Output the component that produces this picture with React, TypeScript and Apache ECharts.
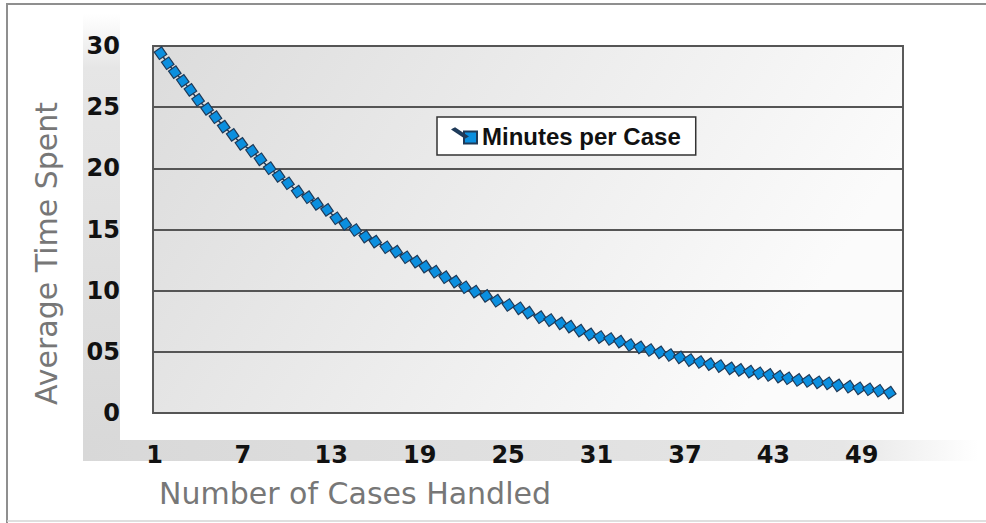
import React, { useEffect, useRef } from "react";
import * as echarts from "echarts";

const xTickValues = [1, 7, 13, 19, 25, 31, 37, 43, 49];
const yTickLabels = ["0", "05", "10", "15", "20", "25", "30"];
const seriesName = "Minutes per Case";
const xTitle = "Number of Cases Handled";
const yTitle = "Average Time Spent";

const caseNumbers = [
  1.41, 1.9, 2.38, 2.92, 3.44, 3.96, 4.57, 5.14, 5.7, 6.31, 6.9, 7.62, 8.19, 8.82, 9.43, 10.06,
  10.72, 11.42, 12.03, 12.71, 13.34, 13.95, 14.63, 15.31, 15.98, 16.73, 17.41, 18.08, 18.76,
  19.37, 20.05, 20.73, 21.41, 22.08, 22.76, 23.51, 24.23, 25.02, 25.77, 26.38, 27.17, 27.85,
  28.57, 29.2, 29.88, 30.56, 31.24, 31.92, 32.59, 33.27, 33.95, 34.63, 35.31, 35.98, 36.66,
  37.34, 38.02, 38.69, 39.37, 40.1, 40.73, 41.41, 42.04, 42.72, 43.39, 44.0, 44.68, 45.36,
  46.04, 46.72, 47.39, 48.14, 48.82, 49.49, 50.17, 50.9,
];
const minutesPerCase = [
  29.41, 28.59, 27.86, 27.15, 26.41, 25.59, 24.86, 24.18, 23.41, 22.73, 22.0, 21.42, 20.74,
  20.01, 19.38, 18.78, 18.09, 17.64, 17.09, 16.6, 15.92, 15.45, 14.96, 14.42, 14.01, 13.55,
  13.19, 12.73, 12.37, 11.96, 11.55, 11.1, 10.74, 10.28, 9.92, 9.57, 9.18, 8.83, 8.56, 8.2,
  7.83, 7.6, 7.33, 7.06, 6.73, 6.43, 6.21, 6.05, 5.83, 5.56, 5.37, 5.15, 4.96, 4.74, 4.55,
  4.33, 4.17, 3.99, 3.84, 3.65, 3.52, 3.38, 3.25, 3.11, 2.97, 2.84, 2.7, 2.62, 2.51, 2.43,
  2.26, 2.15, 2.02, 1.94, 1.82, 1.66,
];

export default function App() {
  const ref = useRef<HTMLDivElement>(null);
  useEffect(() => {
    if (!ref.current) return;
    const chart = echarts.init(ref.current, null, { renderer: "svg" });
    const data = caseNumbers.map((x, i) => [x, minutesPerCase[i]]);
    chart.setOption({
      animation: false,
      backgroundColor: "#ffffff",
      graphic: [
        {
          type: "rect",
          z: 0,
          shape: { x: 83, y: 14, width: 37, height: 447 },
          style: {
            fill: new echarts.graphic.LinearGradient(0, 0, 0, 1, [
              { offset: 0, color: "#ffffff" },
              { offset: 0.12, color: "#e6e6e6" },
              { offset: 1, color: "#d8d8d8" },
            ]),
          },
        },
        {
          type: "rect",
          z: 0,
          shape: { x: 83, y: 440, width: 895, height: 21 },
          style: {
            fill: new echarts.graphic.LinearGradient(0, 0, 1, 0, [
              { offset: 0, color: "#d8d8d8" },
              { offset: 0.85, color: "#e6e6e6" },
              { offset: 1, color: "#ffffff" },
            ]),
          },
        },
        {
          type: "polyline",
          z: 1,
          shape: { points: [[7, 523], [7, 4], [986, 4]] },
          style: { fill: "none", stroke: "#8f8f8f", lineWidth: 2 },
        },
        {
          type: "line",
          z: 1,
          shape: { x1: 7, y1: 521, x2: 986, y2: 521 },
          style: { stroke: "#d4d4d4", lineWidth: 1.5 },
        },
      ],
      grid: {
        left: 153,
        top: 46,
        width: 750,
        height: 367,
        show: true,
        backgroundColor: new echarts.graphic.LinearGradient(0, 0, 1, 0.3, [
          { offset: 0, color: "#dcdcdc" },
          { offset: 1, color: "#fbfbfb" },
        ]),
        borderColor: "#5a5a5a",
        borderWidth: 2,
      },
      legend: {
        left: 437,
        top: 117,
        orient: "horizontal",
        backgroundColor: "#ffffff",
        borderColor: "#333333",
        borderWidth: 1.5,
        borderRadius: 0,
        padding: [7, 15, 7, 15],
        itemWidth: 24,
        itemHeight: 15,
        icon: "path://M0,1 L2,0 L14,8 L12,9 Z M11,3 L24,3 L24,15 L11,15 Z",
        textStyle: {
          fontFamily: "Liberation Sans, Arial, sans-serif",
          fontWeight: "bold",
          fontSize: 24,
          color: "#111111",
        },
        data: [seriesName],
      },
      xAxis: {
        type: "value",
        min: 0.9,
        max: 51.8,
        splitLine: { show: false },
        axisTick: { show: false },
        axisLine: { show: false },
        axisLabel: {
          customValues: xTickValues,
          formatter: (v: number) => String(v),
          fontFamily: "DejaVu Sans, sans-serif",
          fontWeight: "bold",
          fontSize: 24,
          color: "#111111",
          margin: 30,
        },
        name: xTitle,
        nameLocation: "middle",
        nameGap: 65,
        nameTextStyle: {
          fontFamily: "DejaVu Sans, sans-serif",
          fontSize: 30,
          color: "#777777",
          padding: [0, 346, 0, 0],
        },
      },
      yAxis: {
        type: "value",
        min: 0,
        max: 30,
        interval: 5,
        axisLine: { show: false },
        axisTick: { show: false },
        splitLine: { lineStyle: { color: "#555555", width: 2 } },
        axisLabel: {
          formatter: (v: number) => yTickLabels[Math.round(v / 5)],
          fontFamily: "DejaVu Sans, sans-serif",
          fontWeight: "bold",
          fontSize: 24,
          color: "#111111",
          margin: 33,
          padding: [12, 0, 0, 0],
        },
        name: yTitle,
        nameLocation: "middle",
        nameGap: 92,
        nameTextStyle: {
          fontFamily: "DejaVu Sans, sans-serif",
          fontSize: 30,
          color: "#777777",
          padding: [0, 48, 0, 0],
        },
      },
      series: [
        {
          name: seriesName,
          type: "line",
          data,
          symbol: "rect",
          symbolSize: 9,
          symbolRotate: 35,
          showSymbol: true,
          lineStyle: { color: "#1f3f5f", width: 1.5 },
          itemStyle: { color: "#0b8fdf", borderColor: "#1f3a58", borderWidth: 1.2 },
          emphasis: { disabled: true },
        },
      ],
    });
    return () => chart.dispose();
  }, []);
  return (
    <div
      ref={ref}
      style={{ position: "absolute", left: 0, top: 0, width: 986, height: 523 }}
    />
  );
}
